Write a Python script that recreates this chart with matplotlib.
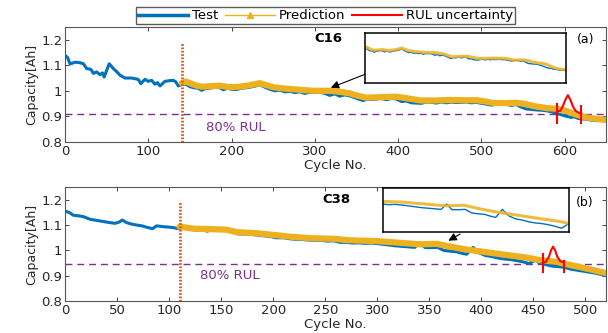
import matplotlib
matplotlib.use("Agg")
import matplotlib.pyplot as plt
from matplotlib.lines import Line2D

plt.rcParams["font.family"] = ["DejaVu Sans"]
plt.rcParams["font.size"] = 9

BLUE = "#0072BD"
YELLOW = "#EDB120"
ORANGE = "#D95319"
PURPLE = "#7E2F8E"
RED = "#FF0000"
AXC = "#262626"

# ---------------- C16 ----------------
c16_test_x = [0, 3, 6, 12, 18, 22, 26, 30, 32, 34, 38, 42, 45, 47, 50, 53, 56, 58, 62, 66,
              72, 80, 86, 88, 91, 96, 100, 104, 108, 111, 114, 120, 126, 130, 133, 136, 140,
              145, 150, 155, 160, 164, 168, 175, 180, 186, 190, 195, 200, 206, 212, 220, 228,
              234, 240, 246, 252, 258, 264, 270, 276, 282, 288, 294, 300, 306, 312, 318, 324,
              330, 336, 342, 348, 354, 358, 362, 368, 374, 380, 386, 392, 398, 404, 410, 416,
              422, 428, 434, 440, 446, 452, 458, 464, 470, 476, 482, 488, 494, 500, 506, 512,
              518, 524, 530, 536, 542, 548, 554, 560, 566, 572, 578, 584, 590, 596, 600, 604,
              608, 612, 616, 620, 626, 632, 638, 644, 650]
c16_test_y = [1.139, 1.130, 1.105, 1.112, 1.110, 1.106, 1.087, 1.085, 1.080, 1.068, 1.074, 1.063,
              1.070, 1.054, 1.080, 1.106, 1.095, 1.087, 1.075, 1.061, 1.050, 1.050, 1.046, 1.044,
              1.028, 1.045, 1.037, 1.041, 1.026, 1.032, 1.019, 1.037, 1.040, 1.041, 1.035, 1.019,
              1.025, 1.026, 1.016, 1.012, 1.010, 1.002, 1.008, 1.011, 1.013, 1.012, 1.004, 1.010,
              1.006, 1.005, 1.010, 1.013, 1.018, 1.024, 1.014, 1.006, 1.000, 1.003, 0.996, 0.998,
              0.993, 0.996, 0.990, 0.994, 0.993, 0.994, 0.990, 0.982, 0.988, 0.979, 0.984, 0.980,
              0.973, 0.966, 0.962, 0.966, 0.966, 0.968, 0.970, 0.965, 0.970, 0.968, 0.958, 0.960,
              0.953, 0.952, 0.951, 0.956, 0.955, 0.952, 0.956, 0.953, 0.956, 0.954, 0.955, 0.956,
              0.953, 0.955, 0.951, 0.948, 0.944, 0.948, 0.949, 0.947, 0.943, 0.946, 0.936, 0.929,
              0.927, 0.925, 0.924, 0.922, 0.918, 0.912, 0.906, 0.902, 0.899, 0.896, 0.898, 0.892,
              0.890, 0.889, 0.885, 0.883, 0.884, 0.882]

c16_pred_x = [140, 145, 150, 156, 164, 175, 186, 198, 210, 222, 234, 242, 250, 266, 282, 298,
              318, 330, 342, 352, 362, 380, 398, 412, 427, 445, 463, 480, 495, 505, 515, 530,
              543, 553, 563, 579, 590, 599, 607, 615, 623, 631, 641, 650]
c16_pred_y = [1.030, 1.036, 1.030, 1.022, 1.016, 1.018, 1.020, 1.014, 1.016, 1.022, 1.030, 1.022,
              1.014, 1.008, 1.004, 1.000, 1.000, 0.996, 0.990, 0.980, 0.973, 0.975, 0.977, 0.970,
              0.962, 0.962, 0.964, 0.963, 0.963, 0.958, 0.952, 0.952, 0.953, 0.948, 0.940, 0.932,
              0.930, 0.924, 0.915, 0.906, 0.898, 0.893, 0.889, 0.886]

c16_start = 140
c16_eol = 0.91
c16_bars_x = [591, 620]
c16_bars_lo = [0.873, 0.873]
c16_bars_hi = [0.950, 0.940]
c16_bell_x = [591, 595, 598, 601, 604, 607, 610, 613, 617, 620]
c16_bell_y = [0.918, 0.922, 0.940, 0.965, 0.983, 0.965, 0.940, 0.922, 0.914, 0.912]

# ---------------- C38 ----------------
c38_test_x = [0, 4, 8, 14, 18, 24, 30, 34, 40, 43, 48, 52, 55, 59, 64, 69, 74, 78, 84, 88, 94,
              100, 104, 109, 115, 120, 126, 132, 137, 141, 146, 152, 158, 165, 172, 178, 184,
              190, 196, 203, 210, 216, 222, 228, 234, 240, 246, 252, 258, 264, 270, 276, 282,
              288, 294, 300, 306, 312, 318, 324, 330, 336, 341, 346, 352, 358, 364, 370, 376,
              382, 386, 392, 398, 404, 410, 416, 422, 428, 434, 440, 446, 452, 456, 462, 468,
              474, 480, 486, 492, 498, 504, 510, 516, 520]
c38_test_y = [1.155, 1.150, 1.139, 1.136, 1.133, 1.123, 1.119, 1.116, 1.112, 1.110, 1.107, 1.112,
              1.120, 1.110, 1.104, 1.100, 1.097, 1.092, 1.086, 1.097, 1.094, 1.092, 1.090, 1.086,
              1.088, 1.084, 1.080, 1.081, 1.076, 1.088, 1.080, 1.079, 1.078, 1.066, 1.064, 1.064,
              1.061, 1.058, 1.056, 1.050, 1.050, 1.046, 1.044, 1.043, 1.041, 1.040, 1.040, 1.037,
              1.038, 1.032, 1.032, 1.029, 1.030, 1.028, 1.029, 1.027, 1.024, 1.021, 1.018, 1.016,
              1.014, 1.012, 1.030, 1.011, 1.011, 1.012, 1.000, 0.997, 0.995, 0.988, 0.985, 1.012,
              0.990, 0.980, 0.976, 0.970, 0.966, 0.964, 0.960, 0.955, 0.948, 0.962, 0.950, 0.944,
              0.938, 0.936, 0.933, 0.926, 0.922, 0.918, 0.914, 0.910, 0.904, 0.900]

c38_pred_x = [110, 123, 141, 155, 165, 184, 203, 219, 238, 258, 273, 299, 322, 341, 357, 370,
              385, 401, 424, 443, 456, 472, 488, 504, 520]
c38_pred_y = [1.094, 1.086, 1.084, 1.082, 1.072, 1.068, 1.060, 1.053, 1.048, 1.046, 1.040, 1.037,
              1.030, 1.024, 1.026, 1.015, 1.004, 0.995, 0.982, 0.972, 0.962, 0.955, 0.940, 0.926,
              0.910]

c38_start = 110
c38_eol = 0.945
c38_bars_x = [459, 479]
c38_bars_lo = [0.915, 0.915]
c38_bars_hi = [0.986, 0.960]
c38_bell_x = [459, 462, 465, 467, 469, 471, 473, 476, 479]
c38_bell_y = [0.950, 0.955, 0.975, 1.000, 1.015, 1.000, 0.975, 0.957, 0.953]


def style_axes(ax, xmax, xticks):
    ax.set_xlim(0, xmax)
    ax.set_ylim(0.8, 1.25)
    ax.set_xticks(xticks)
    ax.set_yticks([0.8, 0.9, 1.0, 1.1, 1.2])
    ax.set_yticklabels(["0.8", "0.9", "1", "1.1", "1.2"])
    ax.tick_params(direction="in", top=True, right=True, length=3, width=0.6,
                   colors=AXC, labelsize=9.5, pad=2)
    for s in ax.spines.values():
        s.set_color("#555555")
        s.set_linewidth(0.8)
    ax.set_xlabel("Cycle No.", fontsize=9.5, labelpad=1, color=AXC)
    ax.set_ylabel("Capacity[Ah]", fontsize=9, labelpad=2, color=AXC)


def draw_panel(ax, tx, ty, px, py, start, eol, bx, blo, bhi, gx, gy):
    ax.plot(tx, ty, color=BLUE, lw=2.2, zorder=3)
    ax.plot(px, py, color=YELLOW, lw=4.5, solid_capstyle="round", zorder=4)
    ax.axhline(eol, color=PURPLE, lw=1, dashes=(5, 3.5), zorder=2)
    ax.plot([start, start], [0.8, 1.19], color=ORANGE, lw=2, ls=(0, (0.6, 0.6)), zorder=5)
    for x, lo, hi in zip(bx, blo, bhi):
        ax.plot([x, x], [lo, hi], color=RED, lw=1.5, zorder=6)
    ax.plot(gx, gy, color=RED, lw=1.5, zorder=6)


def draw_inset(rect, tx, ty, px, py, xlim, ylim):
    ins = fig.add_axes(rect)
    ins.plot(tx, ty, color=BLUE, lw=1.0)
    ins.plot(px, py, color=YELLOW, lw=2.2, alpha=0.85)
    ins.set_xlim(*xlim)
    ins.set_ylim(*ylim)
    ins.set_xticks([])
    ins.set_yticks([])
    for s in ins.spines.values():
        s.set_color("black")
        s.set_linewidth(1.1)
    return ins


fig = plt.figure(figsize=(6.08, 3.33), dpi=100)

ax1 = fig.add_axes([0.107, 0.574, 0.890, 0.345])
draw_panel(ax1, c16_test_x, c16_test_y, c16_pred_x, c16_pred_y, c16_start, c16_eol,
           c16_bars_x, c16_bars_lo, c16_bars_hi, c16_bell_x, c16_bell_y)
style_axes(ax1, 650, [0, 100, 200, 300, 400, 500, 600])
ax1.text(205, 0.855, "80% RUL", color=PURPLE, fontsize=9.5, ha="center", va="center")
ax1.text(316, 1.205, "C16", fontsize=9.5, fontweight="bold", ha="center", va="center")
ax1.text(625, 1.2, "(a)", fontsize=9, ha="center", va="center")
ax1.annotate("", xy=(316, 1.008), xytext=(363, 1.068),
             arrowprops=dict(arrowstyle="-|>", color="black", lw=0.8, mutation_scale=12))

ax2 = fig.add_axes([0.107, 0.096, 0.890, 0.342])
draw_panel(ax2, c38_test_x, c38_test_y, c38_pred_x, c38_pred_y, c38_start, c38_eol,
           c38_bars_x, c38_bars_lo, c38_bars_hi, c38_bell_x, c38_bell_y)
style_axes(ax2, 520, [0, 50, 100, 150, 200, 250, 300, 350, 400, 450, 500])
ax2.text(158, 0.9, "80% RUL", color=PURPLE, fontsize=9.5, ha="center", va="center")
ax2.text(261, 1.2, "C38", fontsize=9.5, fontweight="bold", ha="center", va="center")
ax2.text(499, 1.19, "(b)", fontsize=9, ha="center", va="center")
ax2.annotate("", xy=(366, 1.033), xytext=(382, 1.07),
             arrowprops=dict(arrowstyle="-|>", color="black", lw=0.8, mutation_scale=12))

draw_inset([0.600, 0.751, 0.331, 0.150], c16_test_x, c16_test_y, c16_pred_x, c16_pred_y,
           (140, 650), (0.80, 1.13))
draw_inset([0.630, 0.303, 0.306, 0.132], c38_test_x, c38_test_y, c38_pred_x, c38_pred_y,
           (283, 453), (0.935, 1.084))

handles = [
    Line2D([], [], color=BLUE, lw=2.5),
    Line2D([], [], color=YELLOW, lw=1, marker="^", markersize=4),
    Line2D([], [], color=RED, lw=1.5),
]
fig.legend(handles, ["Test", "Prediction", "RUL uncertainty"], loc="center",
           bbox_to_anchor=(0.535, 0.953), ncol=3, fontsize=9.5, frameon=True,
           fancybox=False, edgecolor="#333333", handlelength=3.8, handletextpad=0.3,
           columnspacing=0.5, borderpad=0.15, borderaxespad=0)

fig.savefig("out.png", dpi=100)
